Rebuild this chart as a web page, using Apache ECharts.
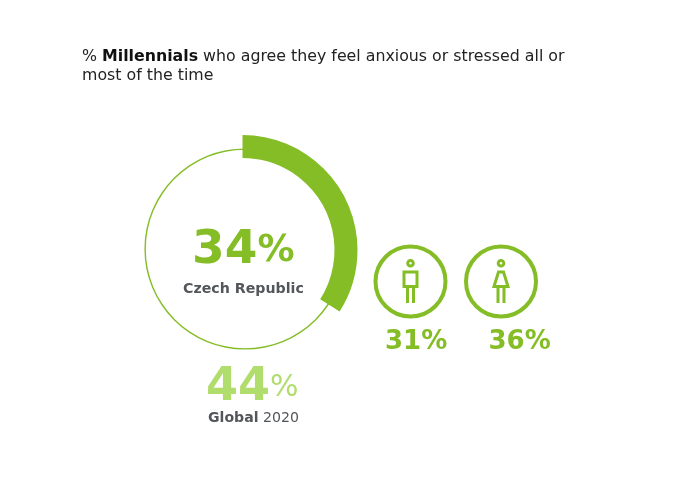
<!DOCTYPE html>
<html>
<head>
<meta charset="utf-8">
<style>
  html, body { margin: 0; padding: 0; background: #fff; }
  #chart { width: 682px; height: 485px; }
</style>
<script src="https://cdn.jsdelivr.net/npm/echarts@6/dist/echarts.min.js"></script>
</head>
<body>
<div id="chart"></div>
<script>
var czechValue = 34;
var globalValue = 44;
var maleValue = 31;
var femaleValue = 36;
var czechName = 'Czech Republic';
var globalName = 'Global';
var globalYear = '2020';

var GREEN = '#84bd26';
var LIGHT = '#b0dd6c';
var GREY = '#53565a';
var FONT = '"DejaVu Sans", sans-serif';

var chart = echarts.init(document.getElementById('chart'));

function txt(x, y, rich, text) {
    return {
        type: 'text', x: x, y: y,
        style: { text: text, rich: rich, align: 'left', verticalAlign: 'middle', fontFamily: FONT }
    };
}

// circle with a person inside, cx is the middle of the badge
function badge(cx, cy, female) {
    var line = { fill: 'none', stroke: GREEN, lineWidth: 3 };
    var list = [
        { type: 'circle', shape: { cx: cx, cy: cy, r: 35 }, style: { fill: 'none', stroke: GREEN, lineWidth: 4 } },
        { type: 'circle', shape: { cx: cx, cy: cy - 18.3, r: 2.8 }, style: line }
    ];
    if (female) {
        list.push({ type: 'polygon', shape: { points: [[cx - 2.5, cy - 9.5], [cx + 2.5, cy - 9.5], [cx + 7, cy + 5], [cx - 7, cy + 5]] }, style: line });
    } else {
        list.push({ type: 'rect', shape: { x: cx - 6.5, y: cy - 9.5, width: 13, height: 14.5 }, style: line });
    }
    list.push({ type: 'polyline', shape: { points: [[cx - 3, cy + 5], [cx - 3, cy + 21.5]] }, style: line });
    list.push({ type: 'polyline', shape: { points: [[cx + 3, cy + 5], [cx + 3, cy + 21.5]] }, style: line });
    return list;
}

var texts = [
    txt(82, 56.5, {
        n: { fontSize: 15.8, fontFamily: FONT, fill: '#222' },
        b: { fontSize: 15.8, fontFamily: FONT, fontWeight: 'bold', fill: '#111' }
    }, '{n|% }{b|Millennials}{n| who agree they feel anxious or stressed all or}'),
    txt(82, 75.5, { n: { fontSize: 15.8, fontFamily: FONT, fill: '#222' } }, '{n|most of the time}'),
    txt(192, 251, {
        a: { fontSize: 47, fontWeight: 'bold', fontFamily: FONT, fill: GREEN },
        b: { fontSize: 37, fontWeight: 'bold', fontFamily: FONT, fill: GREEN }
    }, '{a|' + czechValue + '}{b|%}'),
    txt(183, 289, { a: { fontSize: 14.2, fontWeight: 'bold', fontFamily: FONT, fill: GREY } }, '{a|' + czechName + '}'),
    txt(206, 388, {
        a: { fontSize: 46, fontWeight: 'bold', fontFamily: FONT, fill: LIGHT },
        b: { fontSize: 30, fontFamily: FONT, fill: LIGHT }
    }, '{a|' + globalValue + '}{b|%}'),
    txt(208, 418, {
        a: { fontSize: 14.1, fontWeight: 'bold', fontFamily: FONT, fill: GREY },
        b: { fontSize: 14.1, fontFamily: FONT, fill: GREY }
    }, '{a|' + globalName + '}{b| ' + globalYear + '}'),
    txt(385, 342, { a: { fontSize: 26, fontWeight: 'bold', fontFamily: FONT, fill: GREEN } }, '{a|' + maleValue + '%}'),
    txt(488.5, 342, { a: { fontSize: 26, fontWeight: 'bold', fontFamily: FONT, fill: GREEN } }, '{a|' + femaleValue + '%}')
];

chart.setOption({
    animation: false,
    backgroundColor: '#fff',
    series: [
        {
            // thin outline
            type: 'pie', center: [245, 249], radius: [99.2, 100.6], silent: true, z: 1,
            label: { show: false }, labelLine: { show: false },
            data: [{ value: 100, itemStyle: { color: GREEN } }]
        },
        {
            type: 'pie', center: [242.5, 250], radius: [92, 115], startAngle: 90, silent: true, z: 2,
            label: { show: false }, labelLine: { show: false },
            data: [
                { value: czechValue, name: czechName, itemStyle: { color: GREEN } },
                { value: 100 - czechValue, itemStyle: { color: 'transparent' } }
            ]
        }
    ],
    graphic: { elements: texts.concat(badge(410.5, 281.5, false), badge(501, 281.5, true)) }
});
</script>
</body>
</html>
